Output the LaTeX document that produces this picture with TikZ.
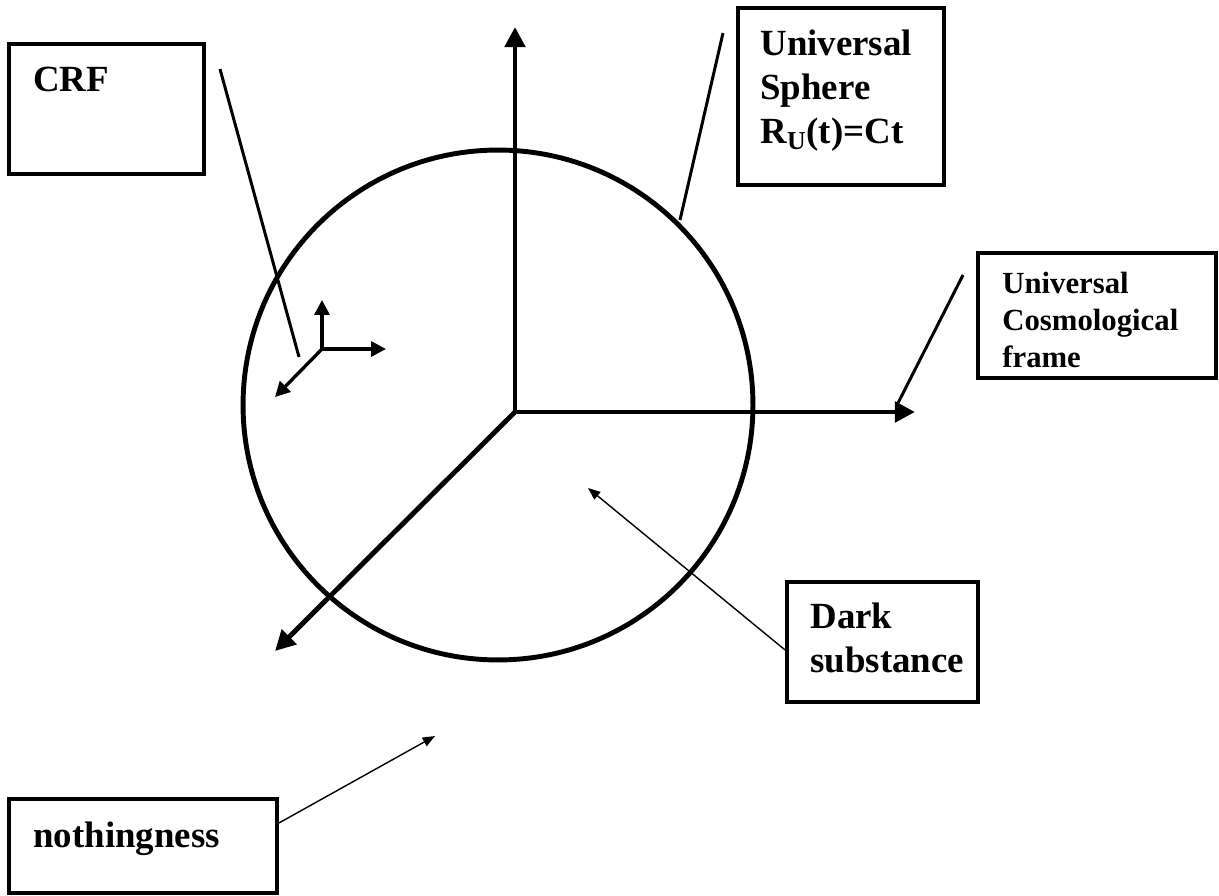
\documentclass[tikz,border=0pt]{standalone}
\usepackage{fontspec}
\setmainfont{Liberation Serif}
\usetikzlibrary{arrows.meta}
\begin{document}
\begin{tikzpicture}[x=0.02cm,y=-0.02cm,
  box/.style={draw,line width=2.2pt,inner sep=0pt,rectangle},
  lbl/.style={anchor=north west,inner sep=0pt,align=left,font=\bfseries\fontsize{21}{25}\selectfont},
  axis/.style={line width=2.8pt,-{Triangle[length=11.5pt,width=11.5pt]}},
  small/.style={line width=1.9pt,-{Triangle[length=8.5pt,width=8.5pt]}},
  pointer/.style={line width=1.7pt},
  thin/.style={line width=0.8pt,-{Triangle[length=7pt,width=5.5pt]}}]
\useasboundingbox (0,0) rectangle (1219,895);
% boxes
\node[box,minimum width=3.9cm,minimum height=2.6cm] (crfbox) at (106.5,109) {};
\node[box,minimum width=4.12cm,minimum height=3.54cm] (spbox) at (841,96.5) {};
\node[box,minimum width=4.76cm,minimum height=2.5cm] (cfbox) at (1097,315.5) {};
\node[box,minimum width=3.82cm,minimum height=2.4cm] (dsbox) at (882.5,642) {};
\node[box,minimum width=5.36cm,minimum height=1.88cm] (nobox) at (143,846) {};
% labels
\node[lbl] (crf) at (33,67) {CRF};
\node[lbl] (sp) at (760,30) {Universal\\Sphere\\R\textsubscript{U}(t)=Ct};
\node[lbl,font=\bfseries\fontsize{17.5}{21}\selectfont] (cf) at (1002,272) {Universal\\Cosmological\\frame};
\node[lbl] (ds) at (810,603) {Dark\\substance};
\node[lbl] (no) at (33,822) {nothingness};
% sphere
\node[draw,circle,line width=2.8pt,minimum size=10.2cm,inner sep=0pt] (sphere) at (498,405) {};
% big axes
\coordinate (O) at (515,412);
\coordinate (yt) at (515,27);
\coordinate (xt) at (915,412);
\coordinate (zt) at (275,651);
\draw[axis,line cap=rect] (O) -- (yt);
\draw[axis] (O) -- (xt);
\draw[axis] (O) -- (zt);
% small axes (CRF)
\coordinate (o2) at (322,349);
\coordinate (y2) at (322,300);
\coordinate (x2) at (386,349);
\coordinate (z2) at (275,397);
\draw[small] (o2) -- (y2);
\draw[small] (o2) -- (x2);
\draw[small] (o2) -- (z2);
% pointer lines
\coordinate (c1) at (220,69);
\coordinate (c2) at (299,357);
\draw[pointer] (c1) -- (c2);
\coordinate (s1) at (723,33);
\coordinate (s2) at (680,220);
\draw[pointer] (s1) -- (s2);
\coordinate (f1) at (963,275);
\coordinate (f2) at (897,405);
\draw[pointer] (f1) -- (f2);
% thin arrows
\coordinate (dtip) at (588,488);
\draw[thin] (dsbox.west) ++(0,8) coordinate (dstart) -- (dtip);
\coordinate (ntip) at (435,736);
\draw[thin] (nobox.east) ++(0,-23) coordinate (nstart) -- (ntip);
\end{tikzpicture}
\end{document}
